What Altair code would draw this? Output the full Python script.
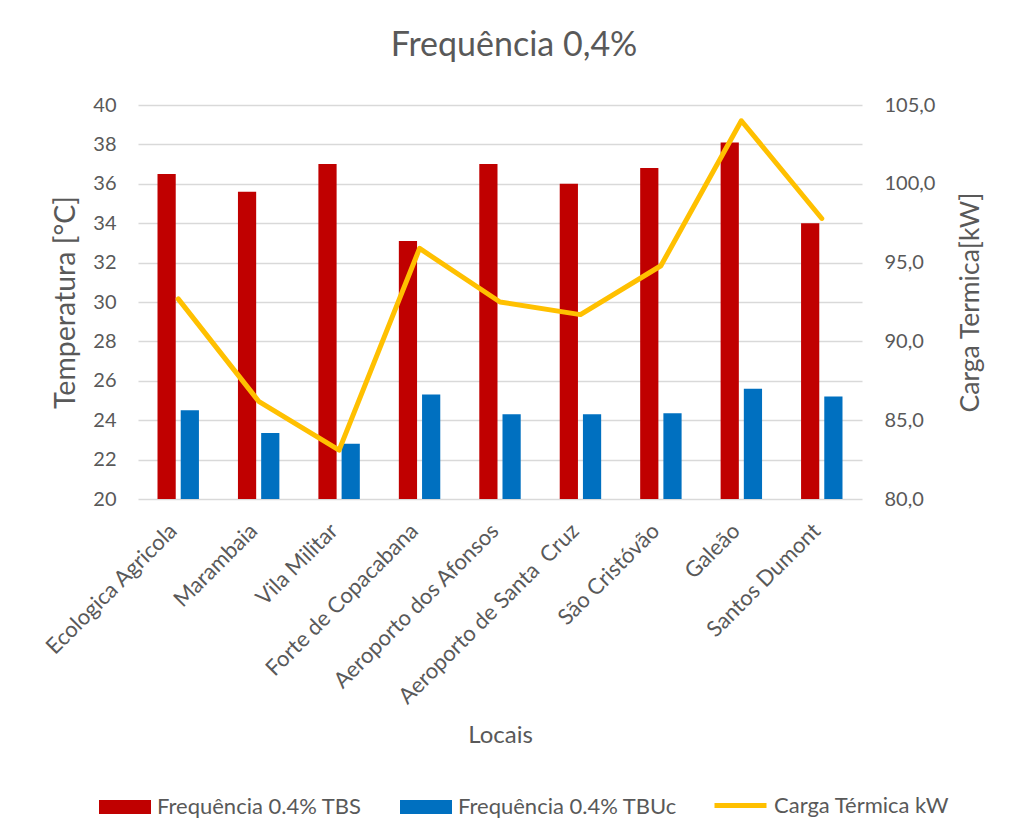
import altair as alt
import pandas as pd

locais = ["Ecologica Agricola", "Marambaia", "Vila Militar", "Forte de Copacabana",
          "Aeroporto dos Afonsos", "Aeroporto de Santa  Cruz", "São Cristóvão",
          "Galeão", "Santos Dumont"]
tbs = [36.5, 35.6, 37.0, 33.1, 37.0, 36.0, 36.8, 38.1, 34.0]
tbuc = [24.5, 23.35, 22.8, 25.3, 24.3, 24.3, 24.35, 25.6, 25.2]
carga = [92.7, 86.2, 83.1, 95.9, 92.5, 91.7, 94.8, 104.0, 97.8]

s_tbs = "Frequência 0.4% TBS"
s_tbuc = "Frequência 0.4% TBUc"
s_carga = "Carga Térmica kW"

bars = pd.DataFrame(
    [{"local": l, "serie": s_tbs, "valor": v} for l, v in zip(locais, tbs)]
    + [{"local": l, "serie": s_tbuc, "valor": v} for l, v in zip(locais, tbuc)]
)
line = pd.DataFrame({"local": locais, "carga": carga, "serie": s_carga})

FONT = "Lato"
GRAY = "#595959"

xenc = alt.X(
    "local:N", sort=locais,
    scale=alt.Scale(paddingInner=0.485, paddingOuter=0.2425),
    axis=alt.Axis(
        title="Locais", labelAngle=315, labelAlign="right", labelBaseline="middle",
        labelPadding=28, labelOffset=-5, ticks=False, domain=False, labelFontSize=22,
        labelColor=GRAY, titleFontSize=24, titleColor=GRAY, titleFontWeight="normal",
        titleX=362, titleY=236, titleBaseline="middle", labelFont=FONT, titleFont=FONT,
        labelLimit=400,
        labelExpr="replace(datum.label, '  ', ' \u00a0')",
    ),
)

bar_layer = alt.Chart(bars).mark_bar().encode(
    x=xenc,
    xOffset=alt.XOffset("serie:N", sort=[s_tbs, s_tbuc],
                        scale=alt.Scale(paddingInner=0.215, paddingOuter=0)),
    y=alt.Y("valor:Q", scale=alt.Scale(domain=[20, 40], zero=False, nice=False),
            axis=alt.Axis(
                title="Temperatura [°C]", values=list(range(20, 41, 2)),
                ticks=False, domain=False, labelPadding=22, labelFontSize=20,
                labelColor=GRAY, titleFontSize=28.5, titleColor=GRAY,
                titleFontWeight="normal", titleX=-73, titleY=197, titleAngle=270,
                titleBaseline="middle", gridColor="#D9D9D9", gridWidth=1.5,
                labelFont=FONT, titleFont=FONT,
            )),
    y2=alt.datum(20),
    color=alt.Color(
        "serie:N",
        scale=alt.Scale(domain=[s_tbs, s_tbuc], range=["#C00000", "#0070C0"]),
        legend=alt.Legend(
            orient="none", legendX=-39, legendY=676, direction="horizontal",
            title=None, padding=0, columnPadding=38, labelOffset=6,
            symbolSize=2704, symbolType="M-1,-0.27L1,-0.27L1,0.27L-1,0.27Z",
            symbolStrokeWidth=0, symbolOpacity=1, labelFontSize=22,
            labelColor=GRAY, labelFont=FONT, labelLimit=400,
        ),
    ),
)

line_layer = alt.Chart(line).mark_line(strokeWidth=5, strokeCap="round",
                                       strokeJoin="round").encode(
    x=alt.X("local:N", sort=locais),
    y=alt.Y("carga:Q", scale=alt.Scale(domain=[80, 105], zero=False, nice=False),
            axis=alt.Axis(
                orient="right", title="Carga Termica[kW]",
                values=[80, 85, 90, 95, 100, 105],
                labelExpr="replace(format(datum.value, '.1f'), '.', ',')",
                ticks=False, domain=False, grid=False, labelPadding=22,
                labelFontSize=20, labelColor=GRAY, titleFontSize=26.5,
                titleColor=GRAY, titleFontWeight="normal", titleX=108,
                titleY=197, titleAngle=270, titleBaseline="middle",
                labelFont=FONT, titleFont=FONT,
            )),
    stroke=alt.Stroke(
        "serie:N",
        scale=alt.Scale(domain=[s_carga], range=["#FFC000"]),
        legend=alt.Legend(
            orient="none", legendX=574, legendY=672, direction="horizontal",
            title=None, padding=0, labelOffset=5, symbolSize=2704,
            symbolType="stroke", symbolStrokeWidth=5, labelFontSize=22,
            labelColor=GRAY, labelFont=FONT, labelLimit=400,
        ),
    ),
)

chart = alt.layer(bar_layer, line_layer).resolve_scale(y="independent").properties(
    width=724, height=394,
    title=alt.Title("Frequência 0,4%", fontSize=34, color=GRAY, font=FONT,
                    fontWeight="normal", offset=5, dx=14, baseline="alphabetic"),
    autosize=alt.AutoSizeParams(type="none"),
    padding={"left": 130, "top": 97, "right": 141, "bottom": 324},
).configure_view(stroke=None)

chart.save("out.html", embed_options={"renderer": "svg", "actions": False})
